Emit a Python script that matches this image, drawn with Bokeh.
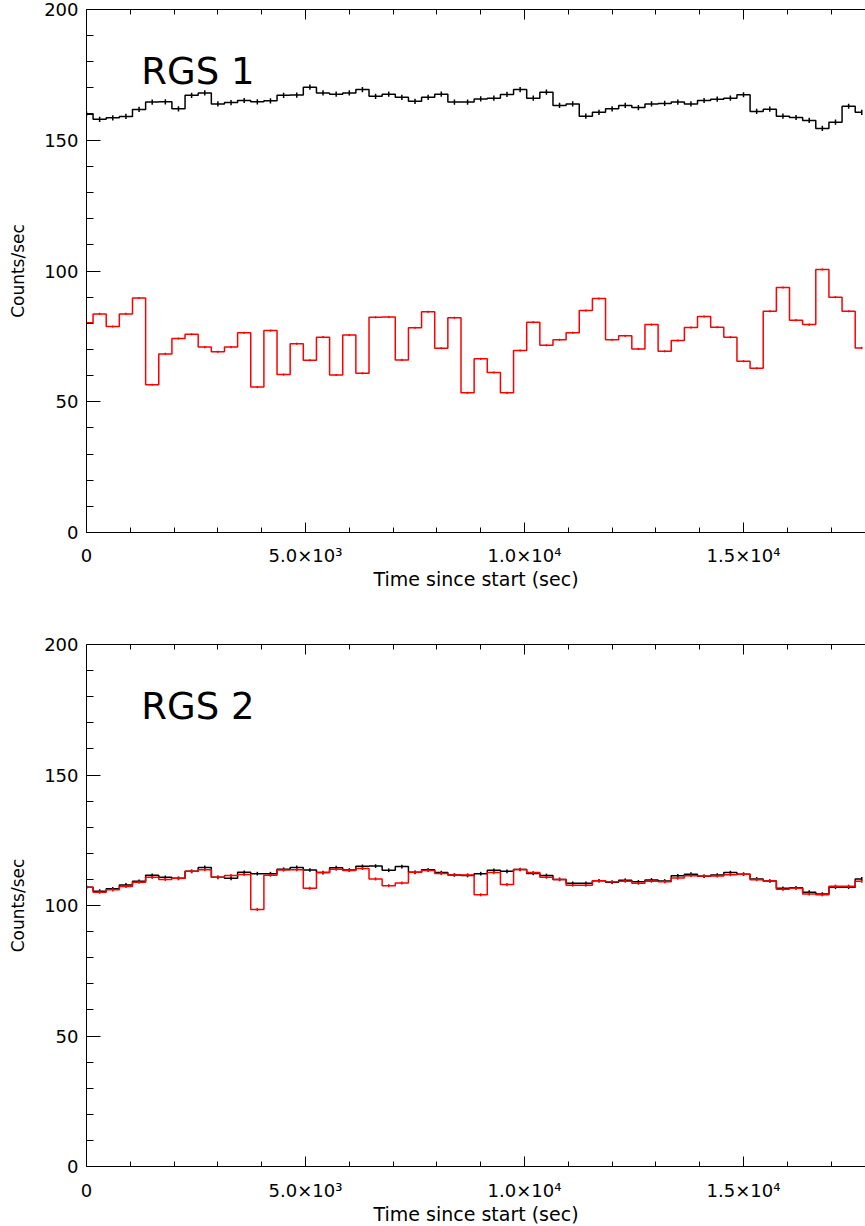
from bokeh.plotting import figure
from bokeh.layouts import column
from bokeh.models import FixedTicker, LinearAxis, Range1d, Label
from bokeh.embed import file_html
from bokeh.resources import INLINE

# ---------------- data ----------------
bin_width = 300.0
time = [i * bin_width for i in range(60)]

rgs1_black = [160.1, 158.0, 158.6, 159.1, 161.8, 164.6, 164.7, 162.0, 167.2, 168.1,
              163.9, 164.4, 165.2, 164.7, 165.1, 167.2, 167.3, 170.3, 168.1, 167.6,
              168.1, 169.4, 166.8, 167.6, 166.4, 164.9, 166.4, 167.6, 164.6, 164.6,
              165.8, 166.1, 167.5, 169.4, 166.1, 168.4, 163.3, 163.9, 159.2, 160.7,
              162.0, 163.3, 162.5, 163.9, 164.1, 164.6, 163.9, 165.2, 165.7, 166.1,
              167.4, 161.0, 161.9, 159.2, 158.7, 157.6, 154.5, 156.9, 163.0, 160.7]
rgs1_red = [80.2, 83.6, 78.8, 83.6, 89.7, 56.5, 68.3, 74.2, 75.8, 70.9,
            69.1, 70.9, 76.4, 55.6, 77.2, 60.4, 72.2, 65.9, 74.7, 60.2,
            75.5, 60.9, 82.3, 82.4, 66.0, 78.3, 84.4, 70.5, 82.1, 53.4,
            66.4, 61.2, 53.4, 69.6, 80.4, 71.6, 73.7, 76.4, 84.9, 89.5,
            73.7, 75.2, 70.2, 79.5, 69.3, 73.4, 78.4, 82.6, 78.5, 74.7,
            65.5, 62.8, 84.6, 93.7, 81.2, 79.5, 100.6, 90.0, 84.6, 70.6]
rgs2_black = [107.0, 105.5, 106.4, 107.9, 109.3, 111.6, 110.8, 110.4, 113.1, 114.6,
              110.8, 110.4, 112.7, 112.2, 112.2, 113.9, 114.6, 113.6, 112.6, 114.5,
              113.6, 115.0, 115.1, 113.5, 114.9, 112.7, 113.7, 112.6, 111.7, 111.5,
              112.2, 113.5, 113.1, 113.8, 112.3, 111.5, 110.0, 108.5, 108.5, 109.5,
              108.9, 109.7, 109.1, 109.8, 109.4, 111.4, 112.0, 111.2, 111.7, 112.6,
              112.0, 110.2, 109.4, 106.6, 106.8, 105.1, 104.4, 107.0, 107.0, 110.2]
rgs2_red = [107.0, 105.1, 106.0, 107.3, 108.9, 110.8, 110.0, 110.4, 113.1, 113.7,
            110.8, 111.5, 111.9, 98.5, 111.6, 113.6, 113.7, 106.6, 112.6, 113.9,
            113.4, 114.2, 110.2, 107.6, 108.6, 112.7, 113.4, 112.3, 111.7, 111.7,
            104.1, 112.6, 108.0, 113.8, 112.6, 110.8, 110.0, 107.8, 107.8, 109.5,
            109.1, 109.3, 108.5, 109.3, 109.1, 110.5, 111.4, 111.3, 111.3, 111.8,
            112.0, 109.9, 109.4, 106.2, 106.6, 104.4, 104.1, 107.4, 107.4, 109.3]

err_rgs1_black = 1.0
err_rgs1_red = 0.4
err_rgs2_black = 0.7
err_rgs2_red = 0.6

x_ticks = [0, 5000, 10000, 15000]
x_tick_labels = ["0", "5.0×10³", "1.0×10⁴", "1.5×10⁴"]
x_minor = [1000, 2000, 3000, 4000, 6000, 7000, 8000, 9000, 11000, 12000, 13000, 14000, 16000, 17000]
y_ticks = [0, 50, 100, 150, 200]
y_minor = [10, 20, 30, 40, 60, 70, 80, 90, 110, 120, 130, 140, 160, 170, 180, 190]

panel_titles = ["RGS 1", "RGS 2"]
x_title = "Time since start (sec)"
y_title = "Counts/sec"

FONT = "DejaVu Sans"
X_END = 17785
TITLE_X = 1250
TITLE_Y = 184.5


def style_axis(ax, major_in, minor_in, title_size="17px"):
    ax.axis_line_color = "black"
    ax.axis_line_width = 1
    ax.major_tick_in = major_in
    ax.major_tick_out = 0
    ax.minor_tick_in = minor_in
    ax.minor_tick_out = 0
    ax.major_tick_line_color = "black"
    ax.minor_tick_line_color = "black"
    ax.major_label_text_font = FONT
    ax.major_label_text_font_size = "18px"
    ax.major_label_text_color = "black"
    ax.axis_label_text_font = FONT
    ax.axis_label_text_font_size = title_size
    ax.axis_label_text_font_style = "normal"
    ax.axis_label_text_color = "black"


def make_panel(black, red, eb, er, title, top, frame_h, bottom, lab_standoff, title_standoff):
    p = figure(frame_width=865 - 86, frame_height=frame_h,
               min_border_left=86, min_border_right=0, min_border_top=top,
               min_border_bottom=bottom, output_backend="svg", toolbar_location=None,
               x_range=Range1d(0, X_END), y_range=Range1d(0, 200),
               x_axis_label=x_title, y_axis_label=y_title)
    p.outline_line_color = None
    p.xgrid.visible = False
    p.ygrid.visible = False
    p.background_fill_color = "white"
    p.border_fill_color = "white"

    p.xaxis.ticker = FixedTicker(ticks=x_ticks, minor_ticks=x_minor)
    p.yaxis.ticker = FixedTicker(ticks=y_ticks, minor_ticks=y_minor)
    p.xaxis.major_label_overrides = dict(zip(x_ticks, x_tick_labels))
    style_axis(p.xaxis[0], 10, 5, "19px")
    style_axis(p.yaxis[0], 14, 7, "17px")
    p.xaxis.major_label_standoff = lab_standoff
    p.xaxis.axis_label_standoff = title_standoff
    p.yaxis.major_label_standoff = 8
    p.yaxis.axis_label_standoff = 13

    top_ax = LinearAxis(ticker=FixedTicker(ticks=x_ticks, minor_ticks=x_minor))
    style_axis(top_ax, 10, 5)
    top_ax.major_label_overrides = {t: "" for t in x_ticks}
    top_ax.major_label_standoff = 0
    p.add_layout(top_ax, "above")

    # black light curve
    p.step(time, black, mode="center", line_color="black", line_width=1.5)
    p.segment(x0=time, y0=[v - eb for v in black], x1=time, y1=[v + eb for v in black],
              line_color="black", line_width=1.5)
    # red light curve
    p.step(time, red, mode="center", line_color="#ff0000", line_width=1.5)
    p.segment(x0=time, y0=[v - er for v in red], x1=time, y1=[v + er for v in red],
              line_color="#ff0000", line_width=1.5)

    p.add_layout(Label(x=TITLE_X, y=TITLE_Y, text=title, text_font=FONT,
                       text_font_size="37px", text_color="black", text_baseline="top"))
    return p


p1 = make_panel(rgs1_black, rgs1_red, err_rgs1_black, err_rgs1_red, panel_titles[0],
                9, 523, 80, 12, -1)
p2 = make_panel(rgs2_black, rgs2_red, err_rgs2_black, err_rgs2_red, panel_titles[1],
                32, 522, 60, 13, -1)

layout = column(p1, p2, spacing=0)
open("out.html", "w").write(file_html(layout, INLINE))
